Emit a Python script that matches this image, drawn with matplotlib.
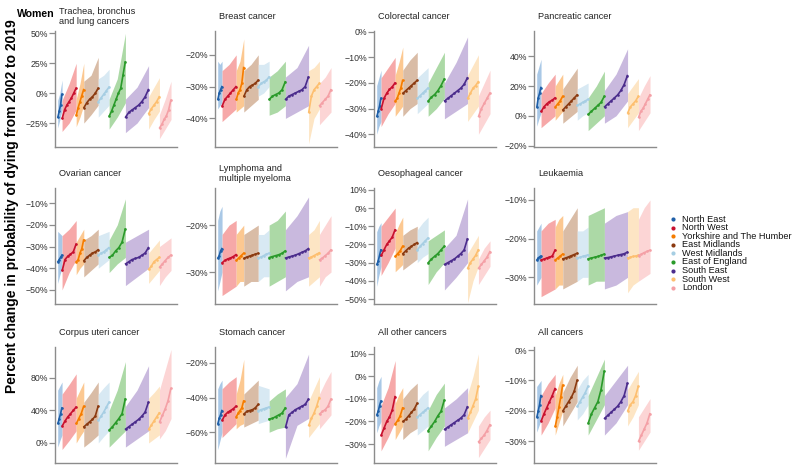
import numpy as np
import matplotlib
matplotlib.use('Agg')
import matplotlib.pyplot as plt

plt.rcParams['font.family'] = ['Liberation Sans', 'DejaVu Sans']

regions = ['North East', 'North West', 'Yorkshire and The Humber', 'East Midlands',
           'West Midlands', 'East of England', 'South East', 'South West', 'London']
n_districts = [12, 39, 21, 40, 30, 45, 64, 30, 32]
point_colors = ['#1f5fa8', '#c8102e', '#f57c00', '#8b3a10', '#a6cee3',
                '#2a9a2a', '#4b2c8c', '#fdbf6f', '#f4a0a6']
band_colors = ['#a9c8e6', '#f6a8a8', '#fcc891', '#d9bca6', '#d8e9f3',
               '#acd9a6', '#c9b9de', '#fde5c4', '#fcd5d5']

# sorted district estimates per region, and interval (lo, hi) at start / middle / end
lung_pts = [[-20, -15, -10, -1], [-21, -14, -10, -7, -4, 0, 4], [-18, -12, -7, -2, 3],
            [-12, -8, -5, -3, 0, 4], [-7, -4, -1, 2, 5], [-19, -15, -10, -5, 0, 4, 15, 26],
            [-20, -16, -14, -12, -10, -7, -3, 3], [-17, -13, -10, -7, -3], [-29, -26, -22, -19, -14, -6]]
lung_band = [[-29, -6, -22, 0, -14, 11], [-32, -6, -25, 8, -14, 25], [-28, -5, -20, 8, -10, 25],
             [-25, 10, -18, 15, -10, 30], [-20, 12, -15, 15, -10, 20], [-30, -5, -20, 12, -8, 50],
             [-33, -5, -25, 5, -12, 23], [-30, -3, -22, 5, -15, 13], [-38, -18, -30, -5, -22, 10]]

breast_pts = [[-34, -32, -31, -30], [-36, -34, -33, -32, -31, -30], [-34, -32, -31, -29, -24],
              [-33, -31, -30, -29.5, -29, -28], [-30, -29, -28.5, -28, -27], [-34, -33, -32.5, -32, -31, -28.5],
              [-34, -33, -32.5, -32, -31.5, -31, -30, -27], [-38, -33, -31, -30, -29], [-36, -35, -34, -33, -31]]
breast_band = [[-37, -22, -36, -23, -35, -22], [-41, -25, -39, -23, -37, -20], [-38, -25, -37, -22, -36, -15],
               [-38, -25, -36, -23, -34, -20], [-33, -23, -32, -23, -30, -22], [-39, -27, -38, -25, -36, -22],
               [-40, -27, -38, -24, -36, -17], [-48, -25, -40, -24, -37, -22], [-42, -29, -40, -27, -38, -24]]

colorectal_pts = [[-33, -31, -29, -26], [-30, -26, -24, -22.5, -21.5, -20], [-27, -26, -24, -22, -19],
                  [-24, -23, -22, -21, -20, -19], [-26, -25, -24, -23, -22], [-27, -25.5, -24.5, -23, -21, -18.5],
                  [-27, -26, -25, -24, -23, -22, -20.5, -18], [-26, -24, -22, -21, -19.5], [-33, -30, -28, -26, -24]]
colorectal_band = [[-40, -21, -37, -18, -35, -15], [-37, -18, -32, -14, -28, -10], [-33, -17, -31, -12, -29, -6],
                   [-33, -15, -30, -11, -28, -8], [-32, -18, -30, -16, -28, -14], [-33, -20, -30, -14, -26, -8],
                   [-34, -20, -31, -12, -28, -2], [-35, -17, -32, -13, -29, -9], [-40, -25, -36, -20, -32, -15]]

pancreatic_pts = [[6, 12, 15, 19], [3, 6, 8, 9.5, 10.5, 12], [6, 8, 10, 13], [4, 6, 8, 10, 12, 14],
                  [7, 8, 9, 10, 11], [1, 3, 5, 7, 9, 13], [6, 8, 10, 12, 14, 17, 21, 27],
                  [2, 6, 8, 10, 13], [-1, 3, 5, 8, 11, 14]]
pancreatic_band = [[-7, 28, -2, 33, 2, 38], [-8, 15, -4, 22, 0, 28], [-3, 20, 0, 24, 3, 28],
                   [-5, 18, -1, 25, 3, 32], [-3, 18, 0, 20, 2, 22], [-10, 12, -5, 20, 0, 30],
                   [-5, 17, 0, 28, 10, 45], [-8, 15, -3, 20, 2, 25], [-10, 12, -4, 20, 2, 27]]

ovarian_pts = [[-37, -36, -35, -34], [-41, -36, -34.5, -33.5, -32.5, -29], [-37, -36, -33, -31, -27],
               [-36.5, -35, -34, -33, -32.5, -31.5], [-34, -33, -32.5, -31.5, -30.5], [-35, -34, -32, -30.5, -28, -22],
               [-38, -37, -36, -35.5, -35, -34, -33, -30.5], [-40.5, -39, -37, -36, -35], [-39.5, -38, -36.5, -35, -34]]
ovarian_band = [[-47, -23, -43, -24, -40, -25], [-50, -25, -42, -22, -36, -18], [-43, -28, -40, -25, -38, -22],
                [-44, -27, -41, -25, -38, -22], [-40, -25, -38, -24, -36, -23], [-42, -27, -38, -20, -35, -8],
                [-48, -28, -44, -25, -40, -22], [-47, -33, -44, -30, -41, -27], [-48, -30, -44, -28, -41, -26]]

lymphoma_pts = [[-27, -26.5, -25.5, -25], [-28, -27.5, -27.2, -27, -26.7, -26.3], [-27.5, -27, -26.5, -26],
                [-27.1, -26.8, -26.6, -26.4, -26.2, -26], [-27, -26.8, -26.5, -26.2, -26],
                [-26.9, -26.7, -26.5, -26.3, -26, -25.5], [-27, -26.8, -26.6, -26.4, -26.1, -25.8, -25.5, -25],
                [-27, -26.8, -26.5, -26.2, -25.9], [-27.4, -27, -26.5, -26, -25.3]]
lymphoma_band = [[-34, -19, -32, -17, -30, -16], [-35, -22, -34, -20, -33, -19], [-33, -22, -32, -21, -32, -20],
                 [-33, -22, -32, -21, -32, -20], [-32, -22, -31, -22, -31, -21], [-33, -20, -32, -19, -31, -17],
                 [-34, -21, -32, -18, -31, -14], [-33, -22, -32, -21, -31, -19], [-33, -22, -31, -20, -30, -18]]

oesophageal_pts = [[-31, -29, -26, -23], [-26, -23, -20, -18, -16, -12], [-26.5, -25, -23.5, -21],
                   [-25, -23.5, -22, -21, -20, -19], [-23, -21, -19.5, -18, -16.5], [-30, -28, -26.5, -25, -23, -21],
                   [-31, -30, -29, -28, -26.5, -25, -23, -17], [-33, -30, -28, -26, -23], [-33, -31, -29, -27, -24]]
oesophageal_band = [[-43, -13, -37, -10, -32, -8], [-37, -10, -30, -5, -22, 0], [-35, -14, -33, -9, -31, -5],
                    [-34, -15, -31, -12, -28, -10], [-30, -12, -27, -8, -25, -5], [-42, -18, -35, -15, -30, -12],
                    [-45, -22, -38, -15, -30, 5], [-52, -25, -40, -20, -32, -15], [-42, -28, -37, -22, -32, -18]]

leukaemia_pts = [[-25.5, -25, -24.7, -24.5], [-25.5, -25.3, -25, -24.8, -24.5, -23], [-25.5, -25, -24.5, -24],
                 [-25.2, -25, -24.7, -24.4, -24.1, -23.8], [-25, -24.8, -24.6, -24.4, -24.2],
                 [-25.2, -25, -24.8, -24.6, -24.3, -24], [-25, -24.9, -24.7, -24.5, -24.3, -24.1, -23.9, -23.5],
                 [-25, -24.8, -24.6, -24.5, -24.3], [-24.4, -24, -23.6, -23.3, -23]]
leukaemia_band = [[-32, -18, -31, -17, -30, -16], [-35, -18, -34, -16, -33, -15], [-33, -17, -32, -15, -32, -14],
                  [-33, -18, -32, -15, -31, -12], [-31, -18, -30, -18, -30, -17], [-32, -14, -31, -13, -31, -12],
                  [-33, -16, -32, -14, -30, -13], [-34, -13, -32, -12, -31, -12], [-31, -15, -30, -12, -29, -10]]

corpus_pts = [[24, 30, 36, 43], [21, 27, 32, 36, 40, 44], [24, 30, 36, 45], [20, 23, 26, 29, 33, 45],
              [28, 33, 38, 44, 50], [16, 20, 25, 30, 36, 54], [17, 20, 23, 26, 29, 33, 38, 50],
              [17, 22, 27, 32, 37], [26, 34, 42, 52, 67]]
corpus_band = [[-5, 65, 3, 70, 10, 75], [-8, 60, 3, 72, 15, 85], [0, 55, 8, 65, 15, 75],
               [-5, 50, 2, 62, 10, 75], [0, 60, 8, 68, 15, 75], [-5, 40, 5, 65, 15, 100],
               [-5, 45, 5, 65, 15, 95], [0, 55, 5, 62, 10, 70], [5, 65, 15, 90, 30, 115]]

stomach_pts = [[-55, -52, -50, -47.5], [-53, -50, -48.5, -47.5, -46.5, -45], [-51, -49, -47.5, -46, -42],
               [-49.5, -48, -47.5, -47, -46, -44], [-47.6, -47, -46.5, -46, -45.5], [-52.4, -52, -51, -50, -49, -46],
               [-57, -50, -48.5, -47, -46, -45, -44, -41], [-56, -52, -49, -45, -40], [-49.5, -48, -47, -45, -41]]
stomach_band = [[-70, -35, -65, -32, -60, -30], [-63, -35, -59, -31, -55, -28], [-58, -38, -56, -30, -55, -18],
                [-57, -38, -55, -34, -53, -30], [-55, -33, -54, -34, -53, -35], [-60, -42, -58, -38, -57, -35],
                [-75, -40, -56, -32, -52, -15], [-63, -42, -59, -35, -55, -28], [-58, -38, -54, -31, -50, -25]]

other_pts = [[-17, -15.5, -13, -11], [-26, -23, -20, -18, -15, -9], [-21, -19.5, -17.5, -14],
             [-20, -19, -17.5, -16, -14.5, -12], [-18, -17, -16, -15, -14], [-24, -22, -20, -17.5, -15.5, -10.6],
             [-23.5, -22.5, -21.5, -20.5, -19.5, -18.5, -17, -13.5], [-18.5, -16, -13, -10, -4.5],
             [-29, -27.5, -26, -24, -21.5]]
other_band = [[-25, -5, -22, -2, -20, 0], [-33, -13, -27, -5, -20, 7], [-28, -12, -25, -8, -22, -5],
              [-28, -10, -25, -6, -23, -3], [-26, -11, -24, -8, -22, -6], [-33, -15, -27, -8, -22, -3],
              [-31, -14, -28, -10, -25, -5], [-25, -8, -20, 0, -15, 10], [-36, -22, -32, -18, -28, -15]]

all_pts = [[-22, -20, -18, -15], [-23.3, -21, -19, -17, -15, -12.7], [-25, -22, -18.7, -15.4, -11.6],
           [-20, -18.5, -17, -15.5, -13.5, -10], [-18.5, -17, -15.5, -14, -12], [-24, -21, -19, -17, -13, -7],
           [-22.5, -21.5, -20.5, -19.5, -18.5, -17, -15, -11], [-20, -18, -17, -15, -12], [-30, -28, -26, -24, -21]]
all_band = [[-27, -12, -25, -11, -23, -10], [-28, -15, -24, -11, -19, -8], [-28, -15, -24, -11, -20, -8],
            [-25, -14, -21, -9, -17, -5], [-23, -13, -21, -10, -18, -8], [-28, -15, -23, -9, -18, -3],
            [-28, -15, -24, -10, -18, -5], [-25, -13, -22, -10, -18, -7], [-33, -22, -30, -19, -27, -16]]

titles = ['Trachea, bronchus\nand lung cancers', 'Breast cancer', 'Colorectal cancer', 'Pancreatic cancer',
          'Ovarian cancer', 'Lymphoma and\nmultiple myeloma', 'Oesophageal cancer', 'Leukaemia',
          'Corpus uteri cancer', 'Stomach cancer', 'All other cancers', 'All cancers']
yticks = [[-25, 0, 25, 50], [-40, -30, -20], [-40, -30, -20, -10, 0], [-20, 0, 20, 40],
          [-50, -40, -30, -20, -10], [-30, -20], [-50, -40, -30, -20, -10, 0, 10], [-30, -20, -10],
          [0, 40, 80], [-60, -40, -20], [-30, -20, -10, 0, 10], [-30, -20, -10, 0]]
ylims = [(-45, 52), (-49, -12.5), (-45, 0.3), (-21, 57),
         (-56.5, -3), (-36.8, -12.1), (-52.7, 11), (-36.9, -6.9),
         (-24.6, 118), (-77.7, -10.9), (-38.4, 13), (-37.2, 1)]
points = [lung_pts, breast_pts, colorectal_pts, pancreatic_pts, ovarian_pts, lymphoma_pts,
          oesophageal_pts, leukaemia_pts, corpus_pts, stomach_pts, other_pts, all_pts]
bands = [lung_band, breast_band, colorectal_band, pancreatic_band, ovarian_band, lymphoma_band,
         oesophageal_band, leukaemia_band, corpus_band, stomach_band, other_band, all_band]

W, H = 800, 472
fig = plt.figure(figsize=(W / 100, H / 100), dpi=100)

col_left = [55, 215, 374, 534]
row_top = [31, 188, 347]
ax_w, ax_h = 122, 116
grey = '#8c8c8c'


def draw_panel(ax, pts, band):
    start = 0
    for i, n in enumerate(n_districts):
        x0, x1 = start, start + n - 1
        b = band[i]
        ax.fill_between([x0 - 0.5, (x0 + x1) / 2, x1 + 0.5], b[0::2], b[1::2],
                        color=band_colors[i], lw=0, zorder=1)
        xs = np.linspace(x0, x1, len(pts[i]))
        ax.plot(xs, pts[i], '-o', color=point_colors[i], lw=1.2, ms=1.9, mew=0, zorder=3)
        start += n


for k in range(12):
    r, c = divmod(k, 4)
    ax = fig.add_axes([col_left[c] / W, 1 - (row_top[r] + ax_h) / H, ax_w / W, ax_h / H])
    draw_panel(ax, points[k], bands[k])
    ax.set_xlim(-8, sum(n_districts) + 16)
    ax.set_ylim(*ylims[k])
    ax.set_yticks(yticks[k])
    ax.set_yticklabels([f'{v}%'.replace('-', '\u2212') for v in yticks[k]])
    ax.set_xticks([])
    for s in ['top', 'right']:
        ax.spines[s].set_visible(False)
    for s in ['left', 'bottom']:
        ax.spines[s].set_color(grey)
        ax.spines[s].set_linewidth(1.0)
    ax.tick_params(axis='y', length=4, width=0.9, color=grey, labelsize=6.3,
                   labelcolor='#333333', pad=1)
    ax.annotate(titles[k], xy=(0, 1), xycoords='axes fraction', xytext=(3, 10.5),
                textcoords='offset points', ha='left', va='center', fontsize=6.6,
                color='#222222', linespacing=1.05)

fig.text(17 / W, 1 - 14 / H, 'Women', fontsize=7.6, fontweight='bold', ha='left', va='center')
fig.text(12 / W, 1 - 206 / H, 'Percent change in probability of dying from 2002 to 2019',
         rotation=90, fontsize=10, fontweight='bold', ha='center', va='center')

# legend
for i, name in enumerate(regions):
    y = 1 - (219 + i * 8.6) / H
    fig.lines.append(plt.Line2D([673 / W], [y], marker='o', ms=3, mew=0, color=point_colors[i],
                                transform=fig.transFigure))
    fig.text(682 / W, y, name, fontsize=6.6, ha='left', va='center', color='#111111')

fig.savefig('out.png', dpi=100)
